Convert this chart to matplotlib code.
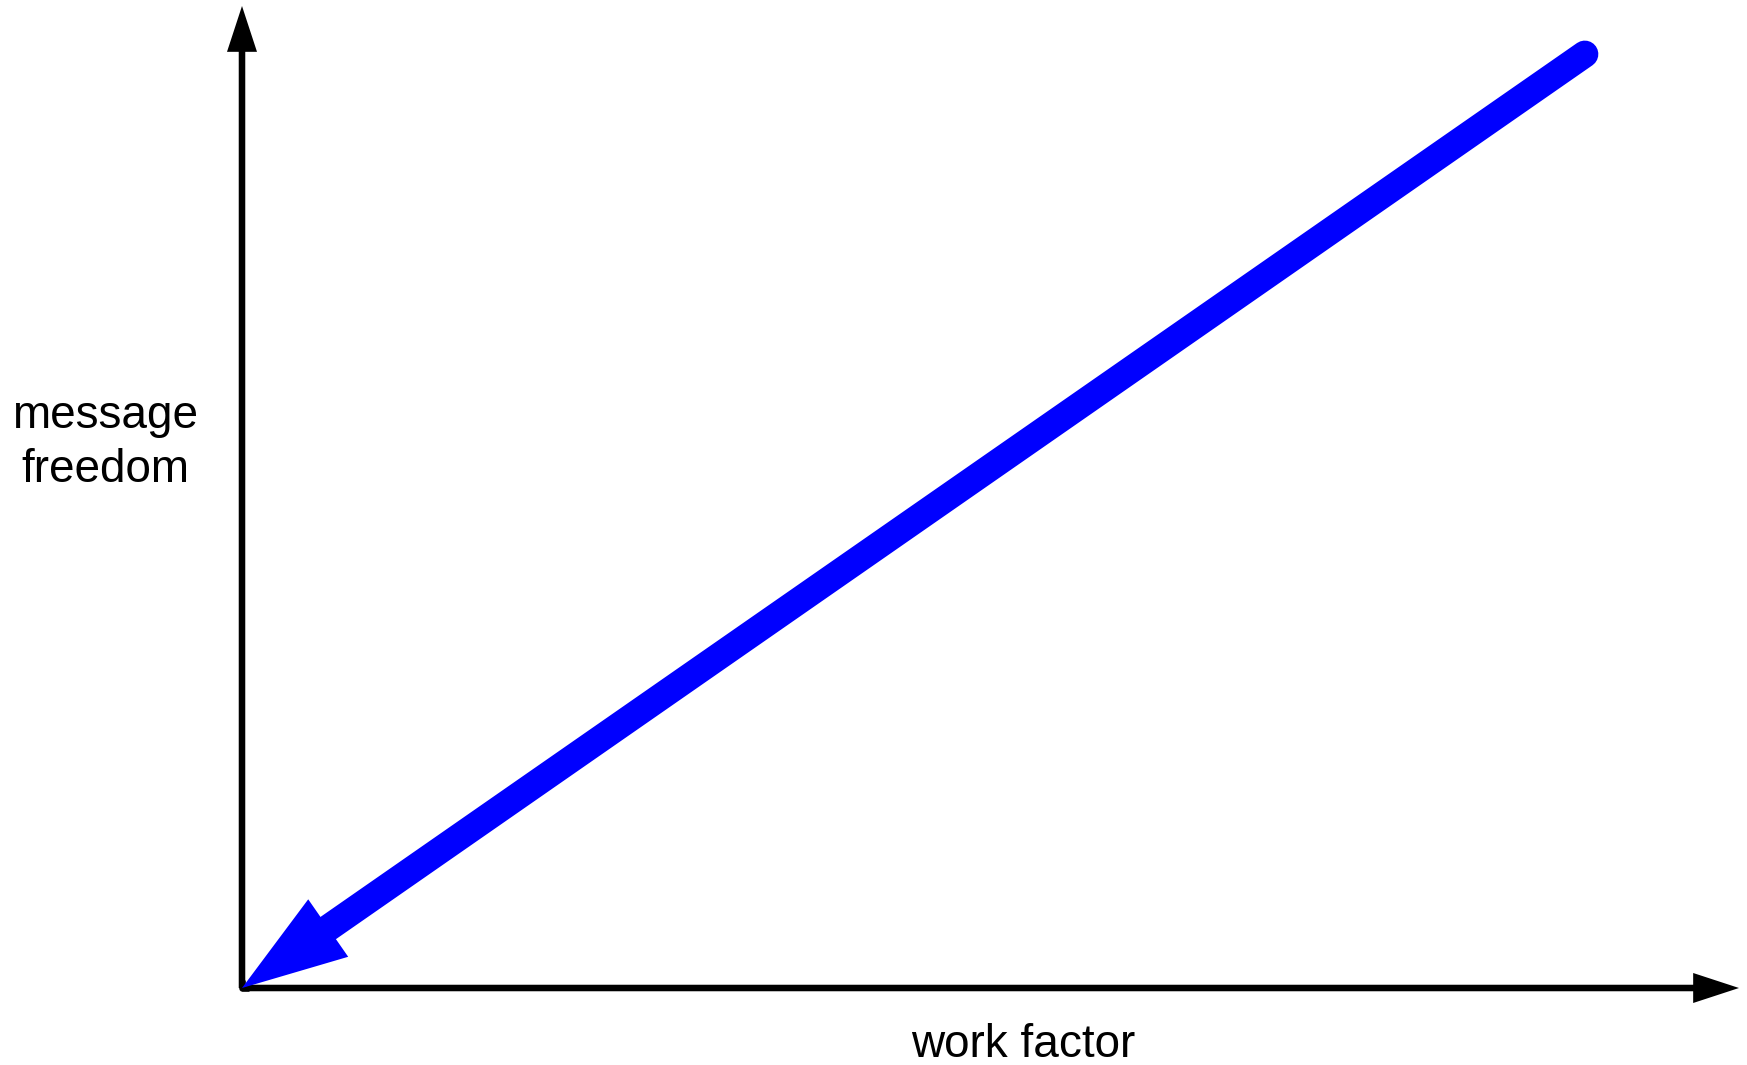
import matplotlib.pyplot as plt
from matplotlib.patches import FancyArrowPatch, ArrowStyle

plt.rcParams['font.family'] = ['Liberation Sans', 'DejaVu Sans']

# Осі діаграми (нормовані одиниці)
origin = (0.0, 0.0)
x_axis_end = (1.0, 0.0)
y_axis_end = (0.0, 1.0)

# Стрілка тренду: від високих значень до початку координат
trend_start = (0.897, 0.951)
trend_end = (0.0, 0.0)

x_label = 'work factor'
y_label_lines = ['message', 'freedom']

fig = plt.figure(figsize=(17.47, 10.65), dpi=100)
ax = fig.add_axes([242 / 1747, 77 / 1065, 1497 / 1747, 982 / 1065])
ax.set_xlim(0, 1)
ax.set_ylim(0, 1)
ax.axis('off')

# Чорні осі зі стрілками
axis_style = ArrowStyle.Simple(head_length=33, head_width=21.6, tail_width=4.7)
for end in (x_axis_end, y_axis_end):
    ax.add_patch(FancyArrowPatch(origin, end, arrowstyle=axis_style,
                                 mutation_scale=1, shrinkA=0, shrinkB=0,
                                 color='black', lw=0, clip_on=False, zorder=2))
ax.plot([origin[0] + 0.005, origin[0], origin[0]],
        [origin[1], origin[1], origin[1] + 0.008],
        color='black', lw=4.7, solid_joinstyle='round',
        solid_capstyle='butt', clip_on=False, zorder=2)

# Синя стрілка: стовбур з круглим кінцем + вістря
k = 0.045  # стовбур закінчується всередині вістря
shaft_end = (trend_end[0] + k * (trend_start[0] - trend_end[0]),
             trend_end[1] + k * (trend_start[1] - trend_end[1]))
ax.plot([trend_start[0], shaft_end[0]], [trend_start[1], shaft_end[1]],
        color='#0000ff', lw=19.5, solid_capstyle='round',
        clip_on=False, zorder=3)
trend_style = ArrowStyle.Simple(head_length=75.6, head_width=50.4, tail_width=1)
ax.add_patch(FancyArrowPatch(shaft_end, trend_end, arrowstyle=trend_style,
                             mutation_scale=1, shrinkA=0, shrinkB=0,
                             color='#0000ff', lw=0, clip_on=False, zorder=3))

# Підписи осей
ax.text(0.522, -0.0705, x_label, fontsize=33, ha='center', va='baseline',
        transform=ax.transAxes)
for i, line in enumerate(y_label_lines):
    ax.text(-0.0915, 0.570 - i * 0.055, line, fontsize=33, ha='center',
            va='baseline', transform=ax.transAxes)

fig.savefig('out.png', dpi=100)
